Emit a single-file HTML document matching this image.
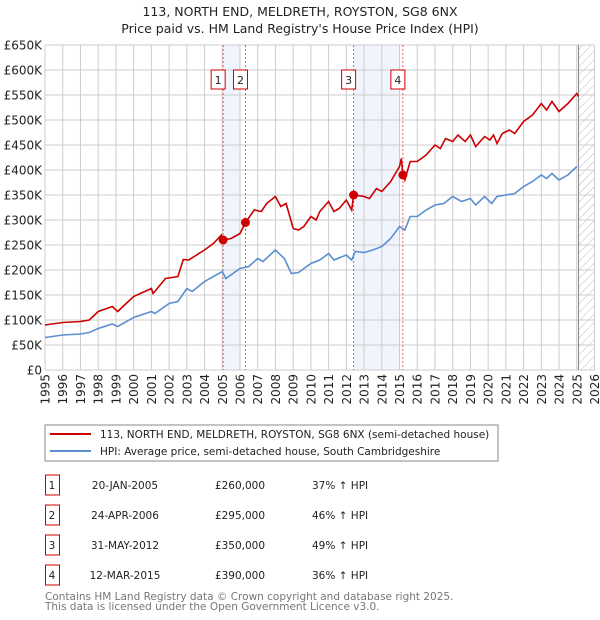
<!DOCTYPE html>
<html><head><meta charset="utf-8"><style>
body{margin:0;background:#fff;font-family:"DejaVu Sans","Liberation Sans",sans-serif;}
#wrap{position:relative;width:600px;height:620px;overflow:hidden}
svg text{font-family:"DejaVu Sans","Liberation Sans",sans-serif}
</style></head><body><div id="wrap">
<svg id="svg" width="600" height="620" xmlns="http://www.w3.org/2000/svg">
<defs><pattern id="hatch" width="6" height="6" patternUnits="userSpaceOnUse" patternTransform="rotate(45)"><line x1="0" y1="0" x2="0" y2="6" stroke="#bbb" stroke-width="1"/></pattern></defs>
<text x="300" y="16" text-anchor="middle" font-size="12.5" fill="#222">113, NORTH END, MELDRETH, ROYSTON, SG8 6NX</text>
<text x="300" y="33" text-anchor="middle" font-size="12.5" fill="#222">Price paid vs. HM Land Registry's House Price Index (HPI)</text>
<g id="plot"></g>
<rect x="45" y="425" width="453" height="36" fill="#fff" stroke="#888"/>
<line x1="50" y1="434" x2="91" y2="434" stroke="#cc0000" stroke-width="2"/>
<text x="100" y="438" font-size="10.5" fill="#222">113, NORTH END, MELDRETH, ROYSTON, SG8 6NX (semi-detached house)</text>
<line x1="50" y1="451" x2="91" y2="451" stroke="#5b8fd0" stroke-width="2"/>
<text x="100" y="455" font-size="10.5" fill="#222">HPI: Average price, semi-detached house, South Cambridgeshire</text>
<g id="table" font-size="10.5" fill="#222"></g>
<text x="45" y="600" font-size="10.5" fill="#777">Contains HM Land Registry data © Crown copyright and database right 2025.</text>
<text x="45" y="610" font-size="10.5" fill="#777">This data is licensed under the Open Government Licence v3.0.</text>
</svg></div>
<script>
const hpiYears=[1995,1996,1997,1997.5,1998,1998.8,1999.1,2000,2001,2001.2,2002,2002.5,2003,2003.3,2004,2005,2005.2,2006,2006.5,2007,2007.3,2008,2008.5,2008.9,2009.3,2010,2010.5,2011,2011.3,2012,2012.3,2012.5,2013,2013.5,2014,2014.5,2015,2015.3,2015.6,2016,2016.5,2017,2017.5,2018,2018.5,2019,2019.3,2019.8,2020.2,2020.5,2021,2021.5,2022,2022.5,2023,2023.3,2023.6,2024,2024.5,2025];
const hpiValues=[65,70,72,75,83,92,87,105,117,113,133,137,163,157,177,197,183,203,207,223,217,240,223,193,195,213,220,233,220,230,220,237,235,240,247,263,287,280,307,307,320,330,333,347,337,343,330,347,333,347,350,353,367,377,390,383,393,380,390,407];
const priceYears=[1995,1996,1997,1997.5,1998,1998.8,1999.1,2000,2001,2001.1,2001.8,2002.5,2002.8,2003.1,2004,2004.5,2004.95,2005.05,2005.5,2006,2006.31,2006.8,2007.2,2007.5,2008,2008.3,2008.6,2009,2009.3,2009.6,2010,2010.3,2010.5,2011,2011.3,2011.6,2012,2012.3,2012.41,2013,2013.3,2013.7,2014,2014.5,2015,2015.1,2015.19,2015.3,2015.6,2016,2016.5,2017,2017.3,2017.6,2018,2018.3,2018.7,2019,2019.3,2019.8,2020.1,2020.3,2020.5,2020.8,2021.2,2021.5,2022,2022.5,2023,2023.3,2023.6,2024,2024.5,2025,2025.1];
const priceValues=[90,95,97,100,117,127,117,147,163,153,183,187,221,220,240,253,270,260,263,273,295,320,317,333,347,327,333,283,280,287,307,300,317,337,317,323,340,320,350,347,343,363,357,377,407,423,390,380,417,417,430,450,443,463,457,470,457,470,447,467,460,470,453,473,480,473,497,510,533,520,537,517,533,553,547];
const saleLabels=["1","2","3","4"];
const saleYears=[2005.05,2006.31,2012.41,2015.19];
const saleValues=[260,295,350,390];
const saleDates=["20-JAN-2005","24-APR-2006","31-MAY-2012","12-MAR-2015"];
const salePrices=["£260,000","£295,000","£350,000","£390,000"];
const saleHpi=["37% ↑ HPI","46% ↑ HPI","49% ↑ HPI","36% ↑ HPI"];
const shadeRanges=[[2005.05,2006.0],[2012.41,2015.0]];
const yTicks=[0,50,100,150,200,250,300,350,400,450,500,550,600,650];
const yTickLabels=["£0","£50K","£100K","£150K","£200K","£250K","£300K","£350K","£400K","£450K","£500K","£550K","£600K","£650K"];
const xTicks=[1995,1996,1997,1998,1999,2000,2001,2002,2003,2004,2005,2006,2007,2008,2009,2010,2011,2012,2013,2014,2015,2016,2017,2018,2019,2020,2021,2022,2023,2024,2025,2026];
const X0=45,X1=594.5,Y0=370,Y1=45;
const xs=v=>X0+(v-1995)/(2026-1995)*(X1-X0);
const ys=v=>Y0-v/650*(Y0-Y1);
const NS="http://www.w3.org/2000/svg";
const plot=document.getElementById('plot');
function mk(tag,attrs,parent){const e=document.createElementNS(NS,tag);for(const k in attrs)e.setAttribute(k,attrs[k]);(parent||plot).appendChild(e);return e;}
let bg=mk('rect',{x:X0,y:Y1,width:X1-X0,height:Y0-Y1,fill:'#fff'});


shadeRanges.forEach((r,i)=>{const e=mk('rect',{x:xs(r[0]),y:Y1,width:xs(r[1])-xs(r[0]),height:Y0-Y1,fill:'#f0f4fc'});

});
let h=mk('rect',{x:xs(2025.1),y:Y1,width:X1-xs(2025.1),height:Y0-Y1,fill:'url(#hatch)'});


yTicks.forEach((t,i)=>{const l=mk('line',{x1:X0,x2:X1,y1:ys(t),y2:ys(t),stroke:'#ccc','stroke-width':1});


const tx=mk('text',{x:42,y:ys(t)+4.5,'text-anchor':'end','font-size':'12',fill:'#222'});tx.textContent=yTickLabels[i];

});
xTicks.forEach(t=>{const l=mk('line',{x1:xs(t),x2:xs(t),y1:Y1,y2:Y0,stroke:'#ccc','stroke-width':1});


const tx=mk('text',{x:0,y:0,'text-anchor':'end','font-size':'12',fill:'#222',transform:`translate(${xs(t)+4.5},374) rotate(-90)`});tx.textContent=t;

});
let vl=mk('line',{x1:xs(2025.1),x2:xs(2025.1),y1:Y1,y2:Y0,stroke:'#888','stroke-width':1});


saleYears.forEach((y,i)=>{const l=mk('line',{x1:xs(y),x2:xs(y),y1:Y1,y2:Y0,stroke:'#ee5555','stroke-width':1,'stroke-dasharray':'2,2'});


const bxl=xs(y)-12;
const b=mk('rect',{x:bxl,y:70,width:14,height:19,fill:'#fff',stroke:'#cc0000'});


const bt=mk('text',{x:bxl+7,y:84,'text-anchor':'middle','font-size':'11',fill:'#222'});bt.textContent=saleLabels[i];

});
const path=(xa,va)=>xa.map((x,i)=>(i?'L':'M')+xs(x).toFixed(1)+','+ys(va[i]).toFixed(1)).join('');
let hp=mk('path',{d:path(hpiYears,hpiValues),fill:'none',stroke:'#5b8fd0','stroke-width':1.6});


let pp=mk('path',{d:path(priceYears,priceValues),fill:'none',stroke:'#cc0000','stroke-width':1.6});


saleYears.forEach((y,i)=>{const c=mk('circle',{cx:xs(y),cy:ys(saleValues[i]),r:4.5,fill:'#cc0000'});

});
const tb=document.getElementById('table');
saleLabels.forEach((s,i)=>{const y0=475+i*30;
const r=mk('rect',{x:45.5,y:y0,width:14,height:20,fill:'#fff',stroke:'#cc0000'},tb);


const cols=[[52,s,'middle'],[125,saleDates[i],'middle'],[240,salePrices[i],'middle'],[312,saleHpi[i],'start']];
cols.forEach((c,j)=>{const t=mk('text',{x:c[0],y:y0+14,'text-anchor':c[2]},tb);t.textContent=c[1];

});});
</script></body></html>
